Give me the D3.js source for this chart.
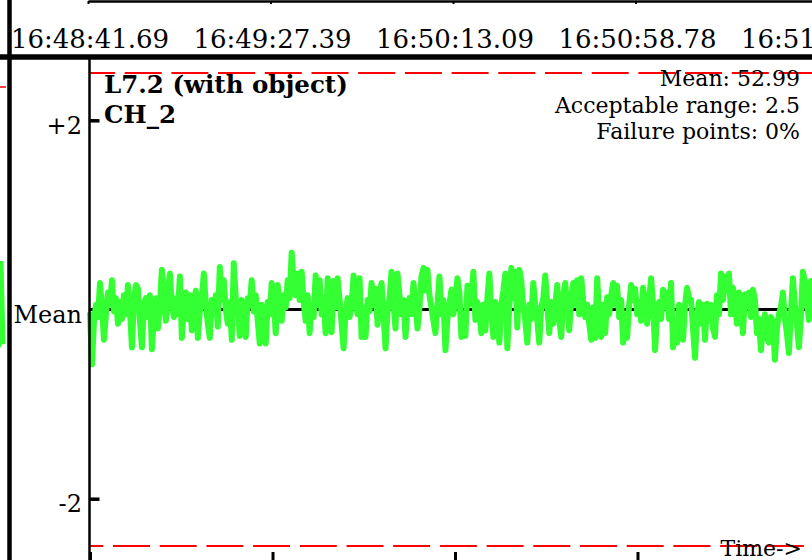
<!DOCTYPE html>
<html>
<head>
<meta charset="utf-8">
<script src="https://d3js.org/d3.v7.min.js"></script>
<style>
  body { margin: 0; background: #fff; }
  svg text { font-family: "DejaVu Serif", serif; fill: #000; }
</style>
</head>
<body>
<div id="chart"></div>
<script>
// ---- data ----
var meanValue = 52.99;
var acceptableRange = 2.5;
var failurePoints = "0%";
var channelTitle = "L7.2 (with object)";
var channelName = "CH_2";

var tickSeconds = [0, 45.70, 91.40, 137.09, 182.79];
var tickLabels = ["16:48:41.69", "16:49:27.39", "16:50:13.09", "16:50:58.78", "16:51:44.48"];

var yTickValues = [2, 0, -2];
var yTickLabels = ["+2", "Mean", "-2"];

var sampleInterval = 0.5; // seconds between readings

// CH_2 readings as offset from the mean
var ch2Offsets = [
  -0.05, -0.58, -0.12, 0.05, -0.08, 0.28, 0.02, -0.32, -0.05, 0.18,
  0.05, 0.31, -0.02, 0.12, -0.15, 0.08, -0.10, 0.15, -0.05, 0.26,
  0.00, -0.40, 0.10, 0.26, 0.22, -0.12, -0.40, 0.05, 0.12, -0.08,
  0.15, -0.42, -0.05, 0.12, -0.20, 0.05, 0.42, 0.10, -0.12, 0.20,
  0.38, 0.05, -0.08, 0.12, -0.05, 0.35, -0.30, 0.02, 0.18, -0.10,
  0.15, -0.22, 0.08, 0.20, -0.30, -0.02, 0.12, 0.38, 0.05, -0.15,
  -0.30, 0.10, -0.05, 0.15, -0.18, 0.45, 0.10, 0.31, 0.00, -0.15,
  0.08, -0.32, 0.49, 0.12, 0.02, -0.28, 0.10, -0.05, -0.29, 0.12,
  0.05, 0.31, -0.02, 0.15, -0.12, -0.36, 0.05, -0.10, -0.36, 0.08,
  -0.05, 0.28, 0.10, -0.25, 0.26, 0.05, -0.12, 0.15, 0.02, 0.31,
  0.12, 0.60, 0.28, 0.15, 0.38, 0.10, 0.40, 0.08, -0.12, 0.15,
  -0.25, 0.05, -0.08, 0.36, 0.05, 0.31, -0.05, 0.12, -0.25, 0.33,
  0.05, -0.24, 0.30, 0.02, 0.33, 0.10, -0.15, -0.41, -0.02, 0.12,
  -0.08, 0.05, 0.36, 0.10, -0.05, 0.33, -0.29, 0.02, -0.29, 0.10,
  -0.02, 0.28, 0.05, 0.22, -0.16, 0.15, 0.28, -0.05, -0.41, -0.02,
  0.12, 0.40, 0.05, -0.20, 0.38, 0.15, -0.05, 0.10, -0.29, 0.02,
  0.12, -0.05, 0.28, 0.05, -0.20, 0.02, 0.35, 0.44, 0.20, 0.42,
  0.15, 0.02, -0.12, -0.25, 0.05, 0.35, -0.05, 0.10, -0.43, -0.10,
  0.05, 0.21, -0.05, 0.12, 0.33, 0.18, -0.29, -0.05, -0.28, 0.25,
  0.05, 0.15, 0.40, -0.11, 0.08, -0.05, -0.25, 0.05, -0.22, 0.12,
  0.38, -0.05, -0.29, 0.08, -0.12, -0.35, 0.05, 0.20, 0.38, -0.41,
  0.05, 0.44, 0.12, 0.40, -0.19, 0.42, 0.30, 0.02, -0.12, -0.35,
  0.05, -0.10, 0.28, 0.05, -0.12, -0.35, 0.02, 0.12, 0.36, 0.05,
  -0.25, 0.08, -0.15, 0.05, 0.26, -0.10, -0.29, 0.15, 0.28, 0.05,
  -0.22, 0.10, 0.28, 0.05, 0.31, -0.05, 0.33, 0.10, -0.08, 0.05,
  -0.15, -0.32, 0.02, -0.30, 0.33, -0.05, -0.29, 0.05, -0.25, 0.13,
  -0.05, 0.15, 0.28, 0.05, 0.25, -0.08, 0.10, -0.35, -0.05, -0.30,
  0.05, 0.26, 0.10, 0.22, -0.05, 0.08, -0.12, 0.23, 0.05, -0.15,
  0.10, 0.33, 0.05, -0.43, -0.05, 0.08, -0.10, 0.21, 0.02, 0.18,
  -0.10, 0.28, -0.40, -0.20, -0.35, 0.05, -0.12, -0.32, 0.05, 0.23,
  0.12, 0.10, -0.20, -0.51, -0.08, 0.08, -0.15, 0.05, -0.32, 0.06,
  -0.12, 0.05, -0.20, -0.29, 0.15, -0.05, 0.38, 0.10, 0.35, 0.20,
  0.38, -0.05, 0.23, 0.05, -0.15, 0.18, 0.02, -0.25, 0.16, 0.05,
  0.18, -0.08, 0.21, 0.10, -0.25, -0.10, -0.43, -0.15, -0.05, -0.30,
  -0.35, -0.08, -0.12, -0.53, -0.20, -0.05, 0.02, 0.18, -0.10, -0.25,
  -0.46, -0.05, 0.33, 0.05, -0.15, -0.40, -0.10, 0.40, 0.30, 0.10,
  -0.11, 0.30
];

// last readings of the neighbouring panel on the left
var prevPanelTail = [-0.25, 0.66, -0.22];

// ---- layout ----
var width = 812, height = 560;

var svg = d3.select("#chart")
  .append("svg")
  .attr("width", width)
  .attr("height", height);

var x = d3.scaleLinear()
  .domain([0, tickSeconds[tickSeconds.length - 1]])
  .range([90, 820]);

var y = d3.scaleLinear()
  .domain([-acceptableRange, acceptableRange])
  .range([546, 73]);

// neighbouring panel, sits a bit lower and ends at the left edge
var prevY = y.copy().range([560, 87]);
var prevX = d3.scaleLinear().domain([0, 2]).range([-1, 3]);

svg.append("path")
  .datum(prevPanelTail)
  .attr("fill", "none")
  .attr("stroke", "#33ff33")
  .attr("stroke-width", 5)
  .attr("d", d3.line().x(function(d, i) { return prevX(i); }).y(function(d) { return prevY(d); }));

svg.append("line")
  .attr("x1", 0).attr("x2", 6)
  .attr("y1", prevY(acceptableRange)).attr("y2", prevY(acceptableRange))
  .attr("stroke", "#ff0000").attr("stroke-width", 1.5);

// acceptable range limits
svg.append("line")
  .attr("x1", 90).attr("x2", width)
  .attr("y1", y(acceptableRange)).attr("y2", y(acceptableRange))
  .attr("stroke", "#ff0000").attr("stroke-width", 2)
  .attr("stroke-dasharray", "37,9.7")
  .attr("stroke-dashoffset", 12);

svg.append("line")
  .attr("x1", 90).attr("x2", width)
  .attr("y1", y(-acceptableRange)).attr("y2", y(-acceptableRange))
  .attr("stroke", "#ff0000").attr("stroke-width", 2)
  .attr("stroke-dasharray", "37,9.7")
  .attr("stroke-dashoffset", 23.7);

// mean line
svg.append("line")
  .attr("x1", 90).attr("x2", width)
  .attr("y1", y(0)).attr("y2", y(0))
  .attr("stroke", "#000").attr("stroke-width", 3);

// trace
var line = d3.line()
  .x(function(d, i) { return x(i * sampleInterval); })
  .y(function(d) { return y(d); });

svg.append("path")
  .datum(ch2Offsets)
  .attr("fill", "none")
  .attr("stroke", "#33ff33")
  .attr("stroke-width", 6)
  .attr("stroke-linejoin", "round")
  .attr("stroke-linecap", "round")
  .attr("d", line);

// y axis
svg.append("line")
  .attr("x1", 89.5).attr("x2", 89.5)
  .attr("y1", 57).attr("y2", height)
  .attr("stroke", "#000").attr("stroke-width", 2.5);

var yAxis = svg.append("g")
  .attr("transform", "translate(89.5,0)")
  .call(d3.axisRight(y).tickValues([2, -2]).tickSize(10).tickFormat(""));
yAxis.select(".domain").remove();
yAxis.selectAll(".tick line").attr("stroke-width", 3.5);

svg.selectAll(".ylab")
  .data(yTickValues)
  .enter()
  .append("text")
  .attr("class", "ylab")
  .attr("x", 82)
  .attr("y", function(d) { return y(d) + 13.5; })
  .attr("text-anchor", "end")
  .style("font-size", "24px")
  .text(function(d, i) { return yTickLabels[i]; });

// bottom ticks
var bottomAxis = svg.append("g")
  .attr("transform", "translate(0,562)")
  .call(d3.axisTop(x).tickValues(tickSeconds).tickSize(10).tickSizeOuter(0).tickFormat(""));
bottomAxis.select(".domain").remove();
bottomAxis.selectAll(".tick line").attr("stroke-width", 3);

// axis of the panel above
var topAxis = svg.append("g")
  .attr("transform", "translate(-2,1)")
  .call(d3.axisBottom(x).tickValues(tickSeconds).tickSize(3).tickSizeOuter(0).tickFormat(""));
topAxis.select(".domain").attr("stroke-width", 2.5);
topAxis.selectAll(".tick line").attr("stroke-width", 2);

// time labels
svg.selectAll(".tlab")
  .data(tickSeconds)
  .enter()
  .append("text")
  .attr("class", "tlab")
  .attr("x", function(d) { return x(d); })
  .attr("y", 48)
  .attr("text-anchor", "middle")
  .style("font-size", "26px")
  .text(function(d, i) { return tickLabels[i]; });

// panel borders
svg.append("line")
  .attr("x1", 0).attr("x2", width)
  .attr("y1", 57).attr("y2", 57)
  .attr("stroke", "#000").attr("stroke-width", 5.5);

svg.append("line")
  .attr("x1", 9.5).attr("x2", 9.5)
  .attr("y1", 0).attr("y2", height)
  .attr("stroke", "#000").attr("stroke-width", 4.5);

// titles
svg.append("text")
  .attr("x", 104).attr("y", 93)
  .style("font-size", "24.5px").style("font-weight", "bold")
  .text(channelTitle);

svg.append("text")
  .attr("x", 104).attr("y", 123)
  .style("font-size", "24.5px").style("font-weight", "bold")
  .text(channelName);

// stats
var stats = [
  "Mean: " + meanValue,
  "Acceptable range: " + acceptableRange,
  "Failure points: " + failurePoints
];
svg.selectAll(".stat")
  .data(stats)
  .enter()
  .append("text")
  .attr("class", "stat")
  .attr("x", 800)
  .attr("y", function(d, i) { return 86 + i * 26.5; })
  .attr("text-anchor", "end")
  .style("font-size", "22px")
  .text(function(d) { return d; });

svg.append("text")
  .attr("x", 802).attr("y", 556)
  .attr("text-anchor", "end")
  .style("font-size", "22px")
  .text("Time->");
</script>
</body>
</html>
